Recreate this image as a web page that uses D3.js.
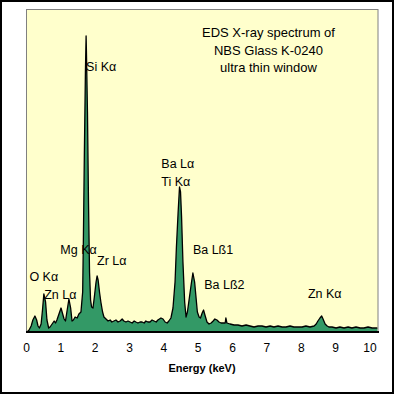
<!DOCTYPE html>
<html>
<head>
<meta charset="utf-8">
<script src="https://cdn.jsdelivr.net/npm/d3@7/dist/d3.min.js"></script>
<style>
body{margin:0;background:#fff;}
svg{display:block;font-family:"Liberation Sans",Arial,sans-serif;}
</style>
</head>
<body>
<div id="grafico"></div>
<script>
var energia = [0.03,0.09,0.15,0.20,0.26,0.31,0.35,0.39,0.44,0.48,0.52,0.57,0.61,0.66,0.70,0.76,0.82,0.86,0.90,0.96,
  1.02,1.06,1.11,1.15,1.19,1.25,1.30,1.34,1.38,1.43,1.49,1.54,1.60,1.65,1.67,1.70,1.73,1.75,1.76,1.79,
  1.82,1.85,1.88,1.91,1.95,1.99,2.04,2.07,2.10,2.14,2.18,2.23,2.27,2.33,2.39,2.45,2.50,2.56,2.62,2.68,
  2.74,2.80,2.85,2.91,2.97,3.03,3.09,3.15,3.20,3.26,3.32,3.38,3.44,3.49,3.55,3.61,3.67,3.73,3.79,3.84,
  3.93,3.99,4.05,4.11,4.16,4.22,4.28,4.34,4.38,4.43,4.47,4.50,4.53,4.57,4.62,4.66,4.70,4.76,4.82,4.86,
  4.91,4.95,4.99,5.04,5.08,5.13,5.17,5.21,5.27,5.33,5.39,5.45,5.50,5.56,5.62,5.68,5.74,5.80,5.82,5.85,
  5.94,6.06,6.17,6.29,6.41,6.52,6.64,6.76,6.87,6.99,7.11,7.22,7.34,7.46,7.57,7.69,7.80,7.92,8.04,8.15,
  8.27,8.39,8.45,8.50,8.56,8.61,8.65,8.71,8.77,8.82,8.91,9.03,9.14,9.26,9.38,9.49,9.61,9.73,9.84,9.96,
  10.08,10.19,10.23];
var contagens = [0,20,60,120,160,120,60,40,80,220,380,300,120,40,50,80,110,90,120,180,
  240,190,130,110,200,330,240,110,120,150,140,180,200,400,900,1800,2600,2960,2800,2200,
  1300,600,320,250,240,350,500,560,520,400,300,200,150,130,110,120,100,110,120,100,
  110,130,110,100,110,100,90,110,100,90,100,100,90,110,100,100,120,110,100,120,
  140,130,100,90,110,140,240,500,850,1200,1450,1400,1150,700,300,150,200,350,500,590,
  500,350,200,150,140,190,220,170,100,80,90,110,130,120,100,90,90,90,140,90,
  80,70,70,60,70,60,50,60,60,50,60,50,60,50,50,60,50,50,50,60,
  50,60,80,110,140,160,130,80,60,50,50,40,50,40,50,40,50,40,40,50,
  40,40,40];

/*rotulos dos picos*/
var picos = ["Si K\u03b1","Ba L\u03b1","Ti K\u03b1","Mg K\u03b1","Zr L\u03b1","O K\u03b1","Zn L\u03b1","Ba L\u00df1","Ba L\u00df2","Zn K\u03b1"];
var picos_x = [1.75,3.94,3.94,1.00,2.07,0.10,0.53,4.86,5.19,8.21];
var picos_y = [2610,1640,1460,780,670,510,330,780,430,340];

var titulo = ["EDS X-ray spectrum of","NBS Glass K-0240","ultra thin window"];
var ticks_x = [0,1,2,3,4,5,6,7,8,9,10];

var dados = energia.map(function(d,i){return {e:d, c:contagens[i]};});

var w = 395, h = 395;
var svg = d3.select("#grafico").append("svg").attr("width",w).attr("height",h);

// moldura externa
svg.append("rect").attr("x",1).attr("y",1).attr("width",392).attr("height",392)
  .attr("fill","#fff").attr("stroke","#000").attr("stroke-width",2);

var esq = 26, dir = 378, topo = 9, base = 332;
var x = d3.scaleLinear().domain([0,10.25]).range([esq,dir]);
var y = d3.scaleLinear().domain([0,3230]).range([base,topo]);

// area do grafico
svg.append("rect").attr("x",esq+0.5).attr("y",topo+0.5).attr("width",dir-esq-0.5).attr("height",base-topo)
  .attr("fill","#ffffcc").attr("stroke","#808080").attr("stroke-width",1);

var area = d3.area().x(function(d){return x(d.e);}).y0(y(0)).y1(function(d){return y(d.c);});
var linha = d3.line().x(function(d){return x(d.e);}).y(function(d){return y(d.c);});

svg.append("path").datum(dados).attr("d",area).attr("fill","#339966");
svg.append("path").datum(dados).attr("d",linha).attr("fill","none")
  .attr("stroke","#000").attr("stroke-width",1.3).attr("stroke-linejoin","round");

// linha da base
svg.append("line").attr("x1",esq).attr("x2",dir+1).attr("y1",base).attr("y2",base)
  .attr("stroke","#000").attr("stroke-width",2);

// eixo x (so os rotulos)
var eixo = d3.axisBottom(x).tickValues(ticks_x).tickSize(0).tickPadding(0).tickFormat(d3.format("d"));
var g = svg.append("g").attr("transform","translate(0,"+(base+11)+")").call(eixo);
g.select(".domain").remove();
g.selectAll("text").attr("font-size",12).attr("fill","#000")
  .attr("font-family","'Liberation Sans',Arial,sans-serif");

svg.append("text").attr("x",202).attr("y",372).attr("text-anchor","middle")
  .attr("font-size",11).attr("font-weight","bold").text("Energy (keV)");

// titulo
svg.selectAll(".titulo").data(titulo).enter().append("text")
  .attr("x",268.5).attr("y",function(d,i){return 37+i*17.5;})
  .attr("text-anchor","middle").attr("font-size",13).text(function(d){return d;});

// rotulos dos picos
svg.selectAll(".pico").data(picos).enter().append("text")
  .attr("x",function(d,i){return x(picos_x[i]);})
  .attr("y",function(d,i){return y(picos_y[i]);})
  .attr("font-size",12.5).text(function(d){return d;});
</script>
</body>
</html>
